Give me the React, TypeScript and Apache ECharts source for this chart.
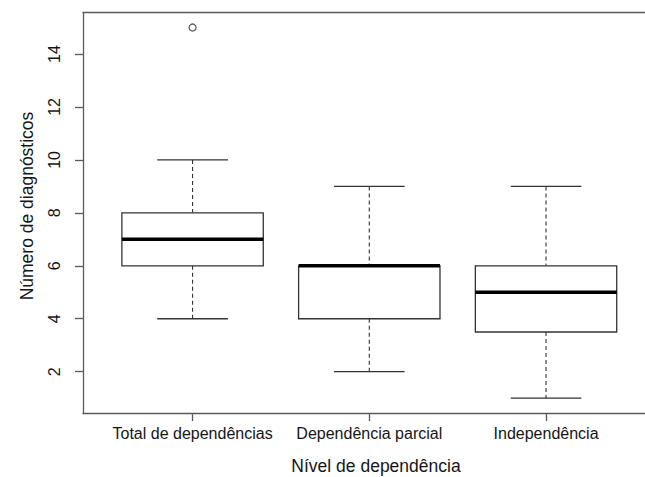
import React, { useEffect, useRef } from "react";
import * as echarts from "echarts";

const categories = ["Total de dependências", "Dependência parcial", "Independência"];
const positions = [1, 2, 3];
const whiskerLow = [4, 2, 1];
const quartile1 = [6, 4, 3.5];
const medians = [7, 6, 5];
const quartile3 = [8, 6, 6];
const whiskerHigh = [10, 9, 9];
const outlierPositions = [1];
const outlierValues = [15];
const yTicks = [2, 4, 6, 8, 10, 12, 14];

const FONT = "'Liberation Sans', Arial, Helvetica, sans-serif";
const TEXT = "#151515";
const FRAME = "#5a5a5a";
const BOX = "#333333";

export default function App() {
  const ref = useRef<HTMLDivElement>(null);
  useEffect(() => {
    if (!ref.current) return;
    const chart = echarts.init(ref.current, undefined, { renderer: "svg" });
    const boxData = positions.map((p, i) => [
      p,
      whiskerLow[i],
      quartile1[i],
      medians[i],
      quartile3[i],
      whiskerHigh[i],
    ]);
    const outlierData = outlierPositions.map((p, i) => [p, outlierValues[i]]);

    const xMin = 0.38;
    const xMax = 3.56;

    const option: any = {
      animation: false,
      grid: { left: 83, right: 0, top: 12.7, bottom: 64 },
      xAxis: [
        {
          type: "value",
          min: xMin,
          max: xMax,
          axisLine: { show: true, onZero: false, lineStyle: { color: FRAME, width: 1.3 } },
          axisTick: {
            show: true,
            customValues: positions,
            length: 8,
            lineStyle: { color: FRAME, width: 1.3 },
          },
          axisLabel: {
            customValues: positions,
            formatter: (v: number) => categories[Math.round(v) - 1] ?? "",
            fontFamily: FONT,
            fontSize: 16,
            color: TEXT,
            margin: 12,
          },
          splitLine: { show: false },
        },
        {
          type: "value",
          position: "top",
          min: xMin,
          max: xMax,
          axisLine: { show: true, onZero: false, lineStyle: { color: FRAME, width: 1.3 } },
          axisTick: { show: false },
          axisLabel: { show: false },
          splitLine: { show: false },
        },
      ],
      yAxis: {
        type: "value",
        min: 0.44,
        max: 15.56,
        axisLine: { show: true, onZero: false, lineStyle: { color: FRAME, width: 1.3 } },
        axisTick: {
          show: true,
          customValues: yTicks,
          length: 8,
          lineStyle: { color: FRAME, width: 1.3 },
        },
        axisLabel: {
          customValues: yTicks,
          rotate: 90,
          fontFamily: FONT,
          fontSize: 16,
          color: TEXT,
          margin: 21,
        },
        splitLine: { show: false },
      },
      graphic: [
        {
          type: "text",
          x: 27,
          y: 206,
          rotation: Math.PI / 2,
          style: {
            text: "Número de diagnósticos",
            fontFamily: FONT,
            fontSize: 17.5,
            fill: TEXT,
            textAlign: "center",
            textVerticalAlign: "middle",
          },
        },
        {
          type: "text",
          x: 376,
          y: 466,
          style: {
            text: "Nível de dependência",
            fontFamily: FONT,
            fontSize: 17.5,
            fill: TEXT,
            textAlign: "center",
            textVerticalAlign: "middle",
          },
        },
      ],
      series: [
        {
          type: "custom",
          xAxisIndex: 0,
          encode: { x: 0, y: [1, 2, 3, 4, 5] },
          data: boxData,
          renderItem: (params: any, api: any) => {
            const x = api.value(0);
            const pLow = api.coord([x, api.value(1)]);
            const pQ1 = api.coord([x, api.value(2)]);
            const pMed = api.coord([x, api.value(3)]);
            const pQ3 = api.coord([x, api.value(4)]);
            const pHigh = api.coord([x, api.value(5)]);
            const cx = pMed[0];
            const half = api.size([0.4, 0])[0];
            const capHalf = api.size([0.2, 0])[0];
            const dash = { stroke: BOX, lineWidth: 1.1, lineDash: [4, 3] };
            const solid = { stroke: BOX, lineWidth: 1.3 };
            return {
              type: "group",
              children: [
                { type: "line", shape: { x1: cx, y1: pHigh[1], x2: cx, y2: pQ3[1] }, style: dash },
                { type: "line", shape: { x1: cx, y1: pQ1[1], x2: cx, y2: pLow[1] }, style: dash },
                { type: "line", shape: { x1: cx - capHalf, y1: pHigh[1], x2: cx + capHalf, y2: pHigh[1] }, style: solid },
                { type: "line", shape: { x1: cx - capHalf, y1: pLow[1], x2: cx + capHalf, y2: pLow[1] }, style: solid },
                {
                  type: "rect",
                  shape: { x: cx - half, y: pQ3[1], width: 2 * half, height: pQ1[1] - pQ3[1] },
                  style: { fill: "#ffffff", stroke: BOX, lineWidth: 1.3 },
                },
                {
                  type: "line",
                  shape: { x1: cx - half, y1: pMed[1], x2: cx + half, y2: pMed[1] },
                  style: { stroke: "#000000", lineWidth: 3.5 },
                },
              ],
            };
          },
        },
        {
          type: "scatter",
          xAxisIndex: 0,
          data: outlierData,
          symbol: "circle",
          symbolSize: 7,
          itemStyle: { color: "#ffffff", borderColor: BOX, borderWidth: 1.3 },
        },
      ],
    };
    chart.setOption(option);
    return () => chart.dispose();
  }, []);
  return <div ref={ref} style={{ width: 645, height: 477, position: "absolute", left: 0, top: 0 }} />;
}
